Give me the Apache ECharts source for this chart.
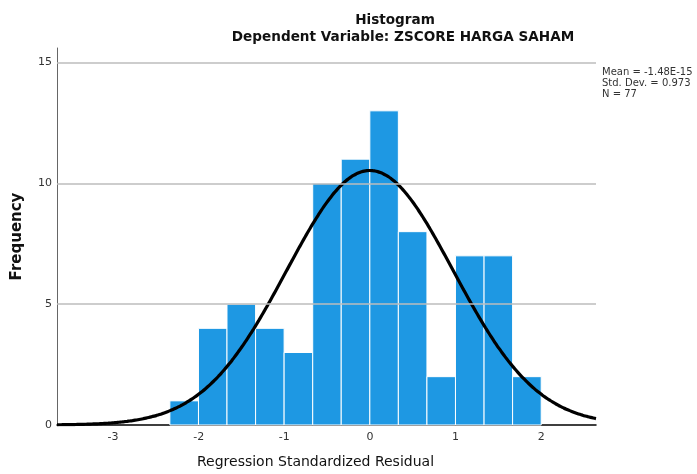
<!DOCTYPE html>
<html>
<head>
<meta charset="utf-8">
<style>
  html, body { margin: 0; padding: 0; background: #fff; }
  #chart { width: 697px; height: 474px; }
</style>
<script src="https://cdn.jsdelivr.net/npm/echarts@6/dist/echarts.min.js"></script>
</head>
<body>
<div id="chart"></div>
<script>
// bin edges (regression standardized residual) and counts
const binEdges = [-2.336, -2.002, -1.669, -1.335, -1.002, -0.668, -0.335, -0.001, 0.332, 0.666, 0.999, 1.333, 1.666, 2.0]
const binCounts = [1, 4, 5, 4, 3, 10, 11, 13, 8, 2, 7, 7, 2]
const xTicks = [-3, -2, -1, 0, 1, 2]
const yTicks = [0, 5, 10, 15]
// normal curve parameters as printed on the chart
const stats = { mean: -1.48e-15, sd: 0.973, n: 77 }
const statLines = ['Mean = -1.48E-15', 'Std. Dev. = 0.973', 'N = 77']

const xMin = -3.654
const xMax = 2.64
const font = 'DejaVu Sans'

const barData = binCounts.map((c, i) => [binEdges[i], binEdges[i + 1], c])

// fitted normal curve, scaled to frequency per bin
const binWidth = (binEdges[binEdges.length - 1] - binEdges[0]) / binCounts.length
const curveData = []
for (let i = 0; i <= 200; i++) {
  const x = xMin + (xMax - xMin) * i / 200
  const z = (x - stats.mean) / stats.sd
  const y = stats.n * binWidth * Math.exp(-0.5 * z * z) / (stats.sd * Math.sqrt(2 * Math.PI))
  curveData.push([x, y])
}

const chart = echarts.init(document.getElementById('chart'))
chart.setOption({
  animation: false,
  textStyle: { fontFamily: font },
  title: [
    {
      text: 'Histogram',
      left: 390,
      top: 8,
      textAlign: 'center',
      textStyle: { fontFamily: font, fontSize: 13.6, fontWeight: 'bold', color: '#111' }
    },
    {
      text: 'Dependent Variable: ZSCORE HARGA SAHAM',
      left: 398,
      top: 25,
      textAlign: 'center',
      textStyle: { fontFamily: font, fontSize: 13.6, fontWeight: 'bold', color: '#111' }
    }
  ],
  graphic: [
    {
      type: 'text',
      left: 602,
      top: 67,
      style: {
        text: statLines.join('\n'),
        fontFamily: font,
        fontSize: 10,
        lineHeight: 11,
        fill: '#333'
      }
    }
  ],
  grid: { left: 57, right: 101, top: 48, bottom: 45 },
  xAxis: {
    type: 'value',
    min: xMin,
    max: xMax,
    name: 'Regression Standardized Residual',
    nameLocation: 'middle',
    nameGap: 30,
    nameTextStyle: { fontFamily: font, fontSize: 14, color: '#111', padding: [0, 22, 0, 0] },
    axisLine: { onZero: false, lineStyle: { color: '#000', width: 1.5 } },
    axisTick: { show: false },
    splitLine: { show: false },
    axisLabel: {
      fontSize: 11,
      color: '#333',
      margin: 7,
      showMinLabel: false,
      showMaxLabel: false,
      formatter: v => (xTicks.includes(v) ? String(v) : '')
    }
  },
  yAxis: {
    type: 'value',
    min: 0,
    max: 15.6,
    interval: 5,
    name: 'Frequency',
    nameLocation: 'middle',
    nameGap: 32,
    nameTextStyle: { fontFamily: font, fontSize: 15, fontWeight: 'bold', color: '#111' },
    axisLine: { show: true, onZero: false, lineStyle: { color: '#666', width: 1 } },
    axisTick: { show: false },
    splitLine: { show: false },
    axisLabel: {
      fontSize: 11,
      color: '#333',
      margin: 5,
      formatter: v => (yTicks.includes(v) ? String(v) : '')
    }
  },
  series: [
    {
      // gridlines behind the bars
      type: 'line',
      data: [],
      z: 1,
      silent: true,
      markLine: {
        silent: true,
        symbol: 'none',
        label: { show: false },
        lineStyle: { color: '#bdbdbd', width: 1.5, type: 'solid' },
        data: yTicks.filter(v => v > 0).map(v => ({ yAxis: v }))
      }
    },
    {
      type: 'custom',
      z: 2,
      data: barData,
      renderItem (params, api) {
        const p0 = api.coord([api.value(0), api.value(2)])
        const p1 = api.coord([api.value(1), 0])
        return {
          type: 'rect',
          shape: { x: p0[0], y: p0[1], width: p1[0] - p0[0], height: p1[1] - p0[1] },
          style: { fill: '#1e98e3', stroke: '#fff', lineWidth: 1 }
        }
      }
    },
    {
      type: 'line',
      z: 3,
      data: curveData,
      showSymbol: false,
      smooth: true,
      lineStyle: { color: '#000', width: 3.2 }
    }
  ]
})
</script>
</body>
</html>
